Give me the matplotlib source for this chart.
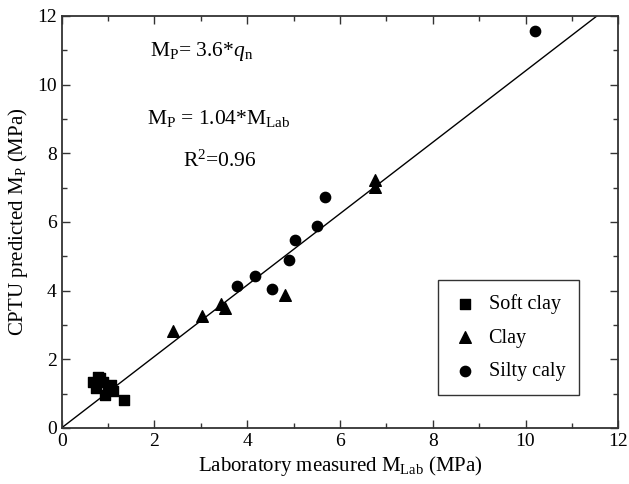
import numpy as np
import matplotlib
matplotlib.use('Agg')
import matplotlib.pyplot as plt
from matplotlib.ticker import MultipleLocator

plt.rcParams['font.family'] = 'Liberation Serif'
plt.rcParams['mathtext.fontset'] = 'custom'
plt.rcParams['mathtext.rm'] = 'Liberation Serif'
plt.rcParams['mathtext.it'] = 'Liberation Serif:italic'

# data
soft_x = [0.68, 0.79, 0.90, 0.75, 1.00, 1.07, 0.93, 1.11, 1.34, 0.82]
soft_y = [1.35, 1.49, 1.35, 1.16, 1.17, 1.25, 0.96, 1.06, 0.80, 1.45]

clay_x = [2.41, 3.02, 3.43, 3.52, 4.82, 6.75, 6.75]
clay_y = [2.83, 3.26, 3.61, 3.49, 3.87, 7.22, 7.03]

silty_x = [3.79, 4.16, 4.54, 4.91, 5.02, 5.51, 5.68, 10.2]
silty_y = [4.14, 4.41, 4.06, 4.89, 5.48, 5.88, 6.74, 11.55]

slope = 1.04

fig = plt.figure(figsize=(6.29, 4.84), dpi=100)
ax = fig.add_axes([0.098, 0.116, 0.885, 0.851])

# fit line
lx = np.array([0, 12 / slope])
ax.plot(lx, slope * lx, color='black', lw=1.0)

ax.scatter(soft_x, soft_y, marker='s', s=55, color='black', label='Soft clay', zorder=3)
ax.scatter(clay_x, clay_y, marker='^', s=70, color='black', label='Clay', zorder=3)
ax.scatter(silty_x, silty_y, marker='o', s=55, color='black', label='Silty caly', zorder=3)

ax.set_xlim(0, 12)
ax.set_ylim(0, 12)
ax.xaxis.set_major_locator(MultipleLocator(2))
ax.xaxis.set_minor_locator(MultipleLocator(1))
ax.yaxis.set_major_locator(MultipleLocator(2))
ax.yaxis.set_minor_locator(MultipleLocator(1))
ax.tick_params(which='both', direction='in', top=True, right=True, labelsize=14, color='#333333')
ax.tick_params(which='major', length=6, width=1)
ax.tick_params(which='minor', length=3.5, width=1)
for sp in ax.spines.values():
    sp.set_linewidth(1.3)
    sp.set_color('#333333')

ax.set_xlabel(r'Laboratory measured M$_{\mathrm{Lab}}$ (MPa)', fontsize=15, labelpad=3)
ax.set_ylabel(r'CPTU predicted M$_{\mathrm{P}}$ (MPa)', fontsize=15, labelpad=5)

ax.text(1.9, 10.96, r'M$_{\mathrm{P}}$= 3.6*$q_{\mathrm{n}}$', fontsize=15.5, va='center')
ax.text(1.84, 9.02, r'M$_{\mathrm{P}}$ = 1.04*M$_{\mathrm{Lab}}$', fontsize=15.5, va='center')
ax.text(2.61, 7.76, r'R$^{2}$=0.96', fontsize=15.5, va='center')

leg = ax.legend(loc='lower right', bbox_to_anchor=(0.93, 0.08), fontsize=14.5,
                frameon=True, fancybox=False, labelspacing=0.7, handletextpad=0.5,
                borderpad=0.7, borderaxespad=0, handlelength=1.3, scatterpoints=1)
leg.get_frame().set_edgecolor('black')
leg.get_frame().set_linewidth(1.0)

plt.savefig('out.png', dpi=100)
